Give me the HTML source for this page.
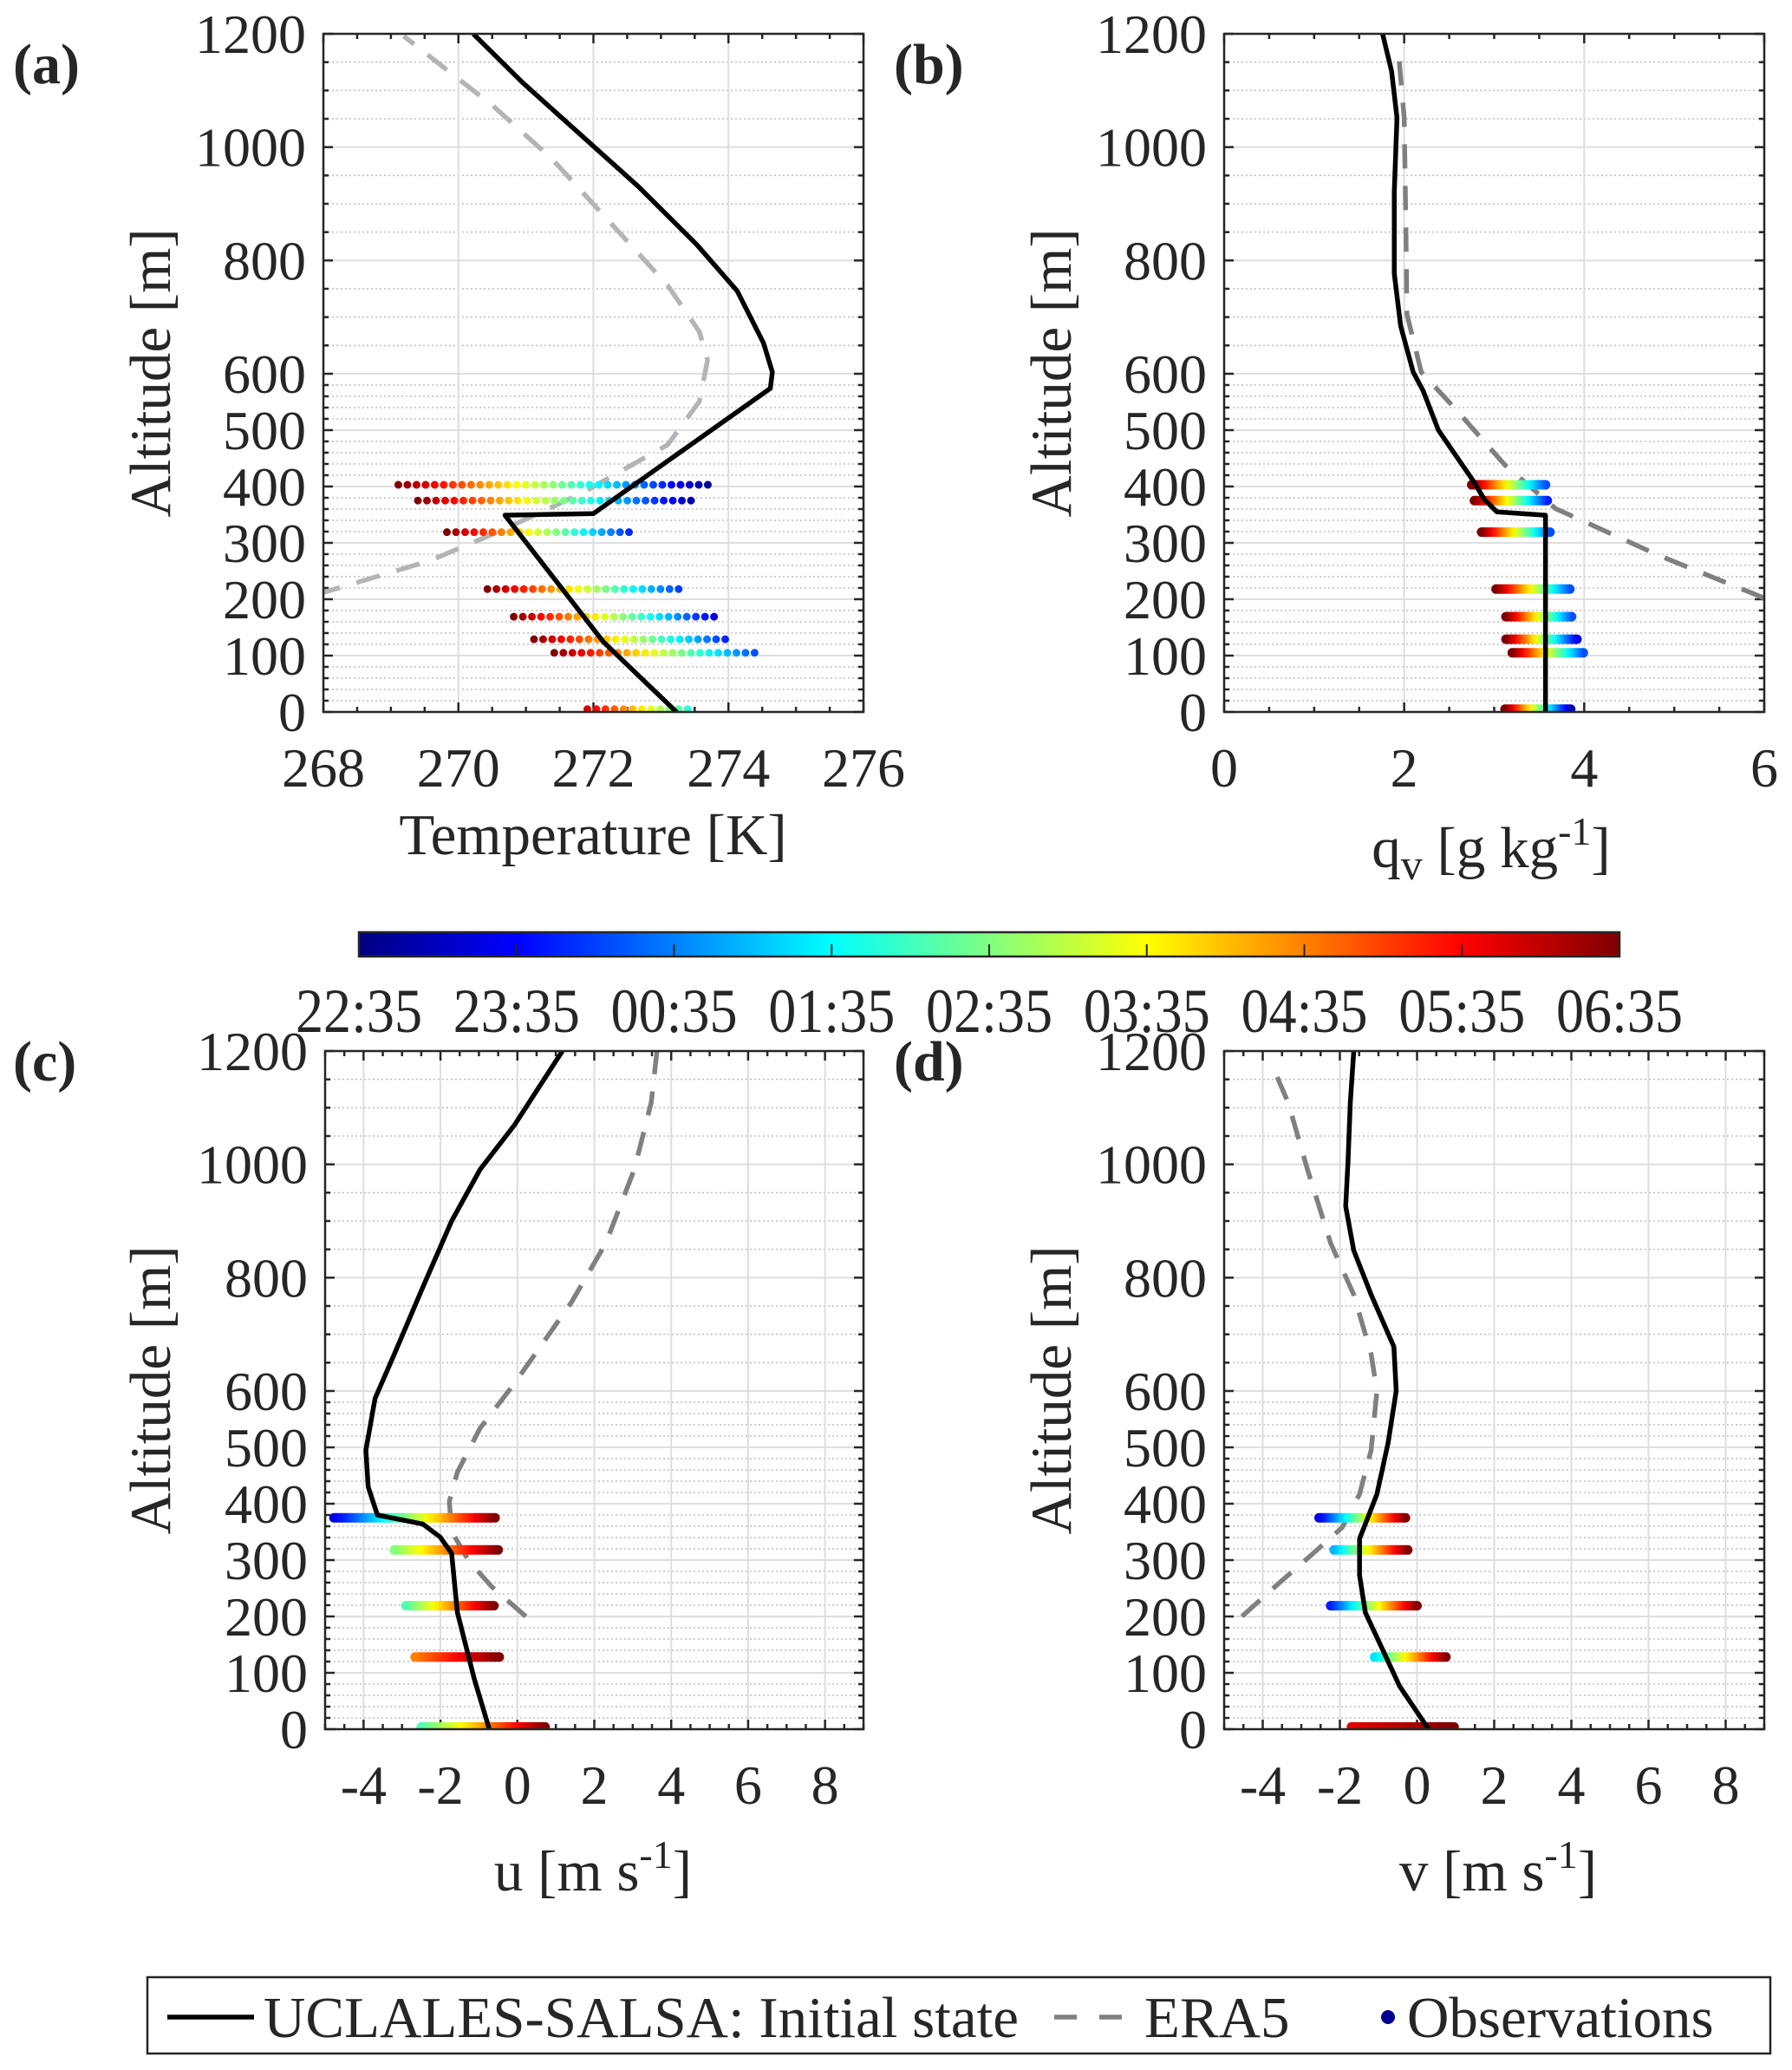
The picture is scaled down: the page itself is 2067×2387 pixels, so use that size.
<!DOCTYPE html>
<html><head><meta charset="utf-8"><style>
html,body{margin:0;padding:0;background:#fff}
svg{display:block}
text{font-family:"Liberation Serif","Times New Roman",serif;fill:#262626}
</style></head><body>
<svg id="fig" width="2067" height="2387" viewBox="0 0 2067 2387" xmlns="http://www.w3.org/2000/svg" font-family="Liberation Serif, serif">
<defs id="defs"></defs>
<g id="root"></g>
</svg>
<script>
// ---------- data ----------
const altTicks=[0,100,200,300,400,500,600,800,1000,1200];
const tempTicks=[268,270,272,274,276];
const qvTicks=[0,2,4,6];
const windTicks=[-4,-2,0,2,4,6,8];
const timeLabels=["22:35","23:35","00:35","01:35","02:35","03:35","04:35","05:35","06:35"];

const tModelX=[273.23,272.15,270.69,272.0,274.62,274.65,274.52,274.13,273.53,272.67,271.81,270.95,270.22];
const tModelZ=[0,124,349,352,574,603,654,746,828,930,1022,1114,1200];
const tEraX=[267.9,268.0,269.57,270.6,271.81,273.1,273.57,273.69,273.57,273.1,272.24,271.38,270.52,269.19];
const tEraZ=[208,212,268,320,387,474,551,624,674,756,868,980,1072,1196];
const tObsZ=[403,375,319,218,169,129,105,5];
const tObsMin=[269.11,269.4,269.83,270.43,270.82,271.12,271.42,271.91];
const tObsMax=[273.79,273.57,272.58,273.38,273.79,273.99,274.39,273.49];
const tObsC0=[1,1,1,1,1,1,1,0.92];
const tObsC1=[0,0.02,0.15,0.15,0.1,0.15,0.2,0.38];

const qModelX=[3.57,3.57,3.03,2.89,2.78,2.38,2.21,2.10,1.96,1.89,1.89,1.92,1.86,1.76];
const qModelZ=[0,349,355,377,407,500,570,603,685,777,920,1052,1134,1200];
const qEraX=[6.0,4.81,3.68,3.12,2.55,2.19,2.03,2.02,2.0,1.93];
const qEraZ=[202,279,361,438,541,603,705,848,1052,1179];
const qObsZ=[403,375,319,218,169,129,105,5];
const qObsMin=[2.75,2.78,2.86,3.02,3.13,3.13,3.2,3.12];
const qObsMax=[3.57,3.59,3.62,3.84,3.86,3.92,3.99,3.85];
const qObsC0=[1,1,1,1,1,1,1,1];
const qObsC1=[0.2,0.15,0.2,0.2,0.2,0.1,0.2,0.05];

const uModelX=[-0.73,-1.12,-1.56,-1.71,-2.01,-2.46,-3.64,-3.88,-3.94,-3.70,-3.20,-2.46,-1.71,-0.97,-0.08,1.17];
const uModelZ=[0,89,207,312,341,364,380,430,495,587,665,783,900,991,1069,1200];
const uEraX=[0.22,-0.67,-1.27,-1.71,-1.77,-1.56,-0.97,-0.08,1.41,2.30,3.04,3.48,3.63];
const uEraZ=[200,253,299,351,404,456,534,613,757,861,991,1109,1200];
const uObsZ=[375,318,219,128,4];
const uObsMin=[-4.77,-3.2,-2.9,-2.66,-2.5];
const uObsMax=[-0.58,-0.5,-0.61,-0.47,0.72];
const uObsC0=[0.1,0.5,0.45,0.75,0.45];
const uObsC1=[1,1,1,1,1];

const vModelX=[0.30,-0.45,-1.34,-1.49,-1.49,-1.34,-1.04,-0.75,-0.54,-0.60,-1.19,-1.64,-1.85,-1.79,-1.73,-1.64];
const vModelZ=[0,76,207,273,338,364,417,508,600,678,770,848,926,1004,1109,1200];
const vEraX=[-4.54,-3.58,-2.69,-1.94,-1.49,-1.19,-1.04,-1.19,-1.64,-2.24,-2.84,-3.34,-3.67];
const vEraZ=[200,259,312,358,417,495,600,665,770,861,991,1109,1161];
const vObsZ=[375,318,219,128,4];
const vObsMin=[-2.54,-2.15,-2.24,-1.10,-1.70];
const vObsMax=[-0.30,-0.24,0.0,0.75,0.96];
const vObsC0=[0.1,0.3,0.15,0.35,0.9];
const vObsC1=[1,1,1,1,1];

// ---------- helpers ----------
const NS="http://www.w3.org/2000/svg";
const root=document.getElementById('root');
const defs=document.getElementById('defs');
function mk(tag,attrs,parent){const e=document.createElementNS(NS,tag);for(const k in attrs)e.setAttribute(k,attrs[k]);(parent||root).appendChild(e);return e;}
function jet(t){const c=v=>Math.max(0,Math.min(1,v));const r=c(1.5-Math.abs(4*t-3)),g=c(1.5-Math.abs(4*t-2)),b=c(1.5-Math.abs(4*t-1));return `rgb(${Math.round(r*255)},${Math.round(g*255)},${Math.round(b*255)})`;}
let gid=0;
function jetGrad(x1,x2,c0,c1){const id='g'+(gid++);const g=mk('linearGradient',{id:id,gradientUnits:'userSpaceOnUse',x1:x1,x2:x2,y1:0,y2:0},defs);for(let i=0;i<=16;i++){const f=i/16;mk('stop',{offset:f,'stop-color':jet(c0+(c1-c0)*f)},g);}return id;}

function panel(cfg){
  const P=mk('g',{});
  
  
  const {L,R,T,B,xmin,xmax}=cfg;
  const lower=(B-T)*390/782;
  const X=v=>L+(v-xmin)/(xmax-xmin)*(R-L);
  const Y=z=>z<=600?B-z*lower/600:B-lower-(z-600)*(B-T-lower)/600;
  const cid='clip'+cfg.name;
  const cp=mk('clipPath',{id:cid},defs);mk('rect',{x:L,y:T,width:R-L,height:B-T},cp);
  const minors=[];for(let z=20;z<600;z+=20)if(z%100)minors.push(z);for(let z=650;z<1200;z+=50)if(z%200)minors.push(z);
  const grid=mk('g',{},P);
  
  
  minors.forEach(z=>{mk('line',{x1:L,x2:R,y1:Y(z),y2:Y(z),stroke:'#bdbdbd','stroke-width':1.5,'stroke-dasharray':'2 3'},grid);});
  altTicks.forEach(z=>{mk('line',{x1:L,x2:R,y1:Y(z),y2:Y(z),stroke:'#dedede','stroke-width':2},grid);});
  cfg.xticks.forEach(v=>{mk('line',{x1:X(v),x2:X(v),y1:T,y2:B,stroke:'#dedede','stroke-width':2},grid);});
  const tk=mk('g',{stroke:'#262626','stroke-width':2.5},P);
  altTicks.forEach(z=>{mk('line',{x1:L,x2:L+11,y1:Y(z),y2:Y(z)},tk);mk('line',{x1:R,x2:R-11,y1:Y(z),y2:Y(z)},tk);});
  minors.forEach(z=>{mk('line',{x1:L,x2:L+6,y1:Y(z),y2:Y(z)},tk);mk('line',{x1:R,x2:R-6,y1:Y(z),y2:Y(z)},tk);});
  for(let v=Math.ceil(xmin*2)/2;v<=xmax;v+=0.5){const maj=cfg.xticks.includes(v);const l=maj?11:6;mk('line',{x1:X(v),x2:X(v),y1:B,y2:B-l},tk);mk('line',{x1:X(v),x2:X(v),y1:T,y2:T+l},tk);}
  altTicks.forEach(z=>{const t=mk('text',{x:L-20,y:Y(z)+22,'font-size':64,'text-anchor':'end'},P);t.textContent=String(z);
    
    });
  cfg.xticks.forEach(v=>{const t=mk('text',{x:X(v),y:cfg.xtY,'font-size':64,'text-anchor':'middle'},P);t.textContent=String(v);
    
    });
  const yl=mk('text',{x:0,y:0,'font-size':67,'text-anchor':'middle',transform:`translate(${cfg.ylX},${(T+B)/2}) rotate(-90)`},P);
  yl.textContent='Altitude [m]';
  
  
  const xl=mk('text',{x:cfg.xlX,y:cfg.xlY,'font-size':67,'text-anchor':'middle'},P);
  xl.innerHTML=cfg.xlabel;
  
  
  const pl=mk('text',{x:cfg.plX,y:cfg.plY,'font-size':66,'font-weight':'bold'},P);
  pl.textContent=cfg.letter;
  
  
  const D=mk('g',{'clip-path':`url(#${cid})`},P);
  const era=mk('polyline',{points:cfg.eraX.map((v,i)=>X(v)+','+Y(cfg.eraZ[i])).join(' '),fill:'none',stroke:cfg.eraColor,'stroke-width':5.5,'stroke-dasharray':'28 20'},D);
  
  
  cfg.obsZ.forEach((z,i)=>{
    const x1=X(cfg.obsMin[i]),x2=X(cfg.obsMax[i]);
    const gidn=jetGrad(x1,x2,cfg.obsC0[i],cfg.obsC1[i]);
    const a={x1:x1,x2:x2+0.01,y1:Y(z),y2:Y(z),stroke:`url(#${gidn})`,'stroke-width':cfg.dotted?9:11,'stroke-linecap':'round'};
    if(cfg.dotted)a['stroke-dasharray']='0 10.5';
    const ob=mk('line',a,D);
    
    
  });
  const md=mk('polyline',{points:cfg.modX.map((v,i)=>X(v)+','+Y(cfg.modZ[i])).join(' '),fill:'none',stroke:'#000','stroke-width':5.5,'stroke-linejoin':'round'},D);
  
  
  const box=mk('rect',{x:L,y:T,width:R-L,height:B-T,fill:'none',stroke:'#262626','stroke-width':2.5},P);
  
  
}

panel({name:'panel-a-temperature',letter:'(a)',plX:15,plY:96,L:373,R:996,T:39,B:821,xmin:268,xmax:276,xticks:tempTicks,xtY:907,ylX:196,xlX:684,xlY:985,
  xlabel:'Temperature [K]',eraX:tEraX,eraZ:tEraZ,eraColor:'#b4b4b8',modX:tModelX,modZ:tModelZ,obsZ:tObsZ,obsMin:tObsMin,obsMax:tObsMax,obsC0:tObsC0,obsC1:tObsC1,dotted:true});
panel({name:'panel-b-humidity',letter:'(b)',plX:1031,plY:96,L:1412,R:2035,T:39,B:821,xmin:0,xmax:6,xticks:qvTicks,xtY:907,ylX:1235,xlX:1720,xlY:1000,
  xlabel:'q<tspan font-size="50" dy="14">v</tspan><tspan dy="-14"> [g kg</tspan><tspan font-size="46" dy="-26">-1</tspan><tspan dy="26">]</tspan>',eraX:qEraX,eraZ:qEraZ,eraColor:'#808080',modX:qModelX,modZ:qModelZ,obsZ:qObsZ,obsMin:qObsMin,obsMax:qObsMax,obsC0:qObsC0,obsC1:qObsC1,dotted:false});
panel({name:'panel-c-u-wind',letter:'(c)',plX:15,plY:1246,L:375,R:996,T:1212,B:1994,xmin:-5,xmax:9,xticks:windTicks,xtY:2080,ylX:196,xlX:684,xlY:2180,
  xlabel:'u [m s<tspan font-size="46" dy="-26">-1</tspan><tspan dy="26">]</tspan>',eraX:uEraX,eraZ:uEraZ,eraColor:'#808080',modX:uModelX,modZ:uModelZ,obsZ:uObsZ,obsMin:uObsMin,obsMax:uObsMax,obsC0:uObsC0,obsC1:uObsC1,dotted:false});
panel({name:'panel-d-v-wind',letter:'(d)',plX:1031,plY:1246,L:1412,R:2035,T:1212,B:1994,xmin:-5,xmax:9,xticks:windTicks,xtY:2080,ylX:1235,xlX:1728,xlY:2180,
  xlabel:'v [m s<tspan font-size="46" dy="-26">-1</tspan><tspan dy="26">]</tspan>',eraX:vEraX,eraZ:vEraZ,eraColor:'#808080',modX:vModelX,modZ:vModelZ,obsZ:vObsZ,obsMin:vObsMin,obsMax:vObsMax,obsC0:vObsC0,obsC1:vObsC1,dotted:false});

// ---------- colorbar ----------
(function(){
  const L=414,R=1868,T=1075,B=1103;
  const cb=mk('g',{});
  
  
  const id=jetGrad(L,R,0,1);
  mk('rect',{x:L,y:T,width:R-L,height:B-T,fill:`url(#${id})`,stroke:'#262626','stroke-width':2.5},cb);
  timeLabels.forEach((s,i)=>{
    const x=L+i*(R-L)/(timeLabels.length-1);
    if(i>0&&i<timeLabels.length-1)mk('line',{x1:x,x2:x,y1:B,y2:B-14,stroke:'#262626','stroke-width':2},cb);
    const t=mk('text',{x:x,y:1190,'font-size':72,'text-anchor':'middle',textLength:146,lengthAdjust:'spacingAndGlyphs'},cb);
    t.textContent=s;
    
    
  });
})();

// ---------- legend ----------
(function(){
  const lg=mk('g',{});
  
  
  mk('rect',{x:170,y:2280,width:1872,height:88,fill:'#fff',stroke:'#262626','stroke-width':2.5},lg);
  const e1=mk('line',{x1:193,x2:293,y1:2326,y2:2326,stroke:'#000','stroke-width':5.5},lg);
  
  
  const t1=mk('text',{x:304,y:2349,'font-size':67},lg);t1.textContent='UCLALES-SALSA: Initial state';
  
  
  const e2=mk('line',{x1:1216,x2:1294,y1:2326,y2:2326,stroke:'#808080','stroke-width':5.5,'stroke-dasharray':'26 26'},lg);
  
  
  const t2=mk('text',{x:1320,y:2349,'font-size':67},lg);t2.textContent='ERA5';
  
  
  const e3=mk('circle',{cx:1601,cy:2326,r:8,fill:'#00008f'},lg);
  
  
  const t3=mk('text',{x:1623,y:2349,'font-size':67},lg);t3.textContent='Observations';
  
  
})();
</script>
</body></html>
